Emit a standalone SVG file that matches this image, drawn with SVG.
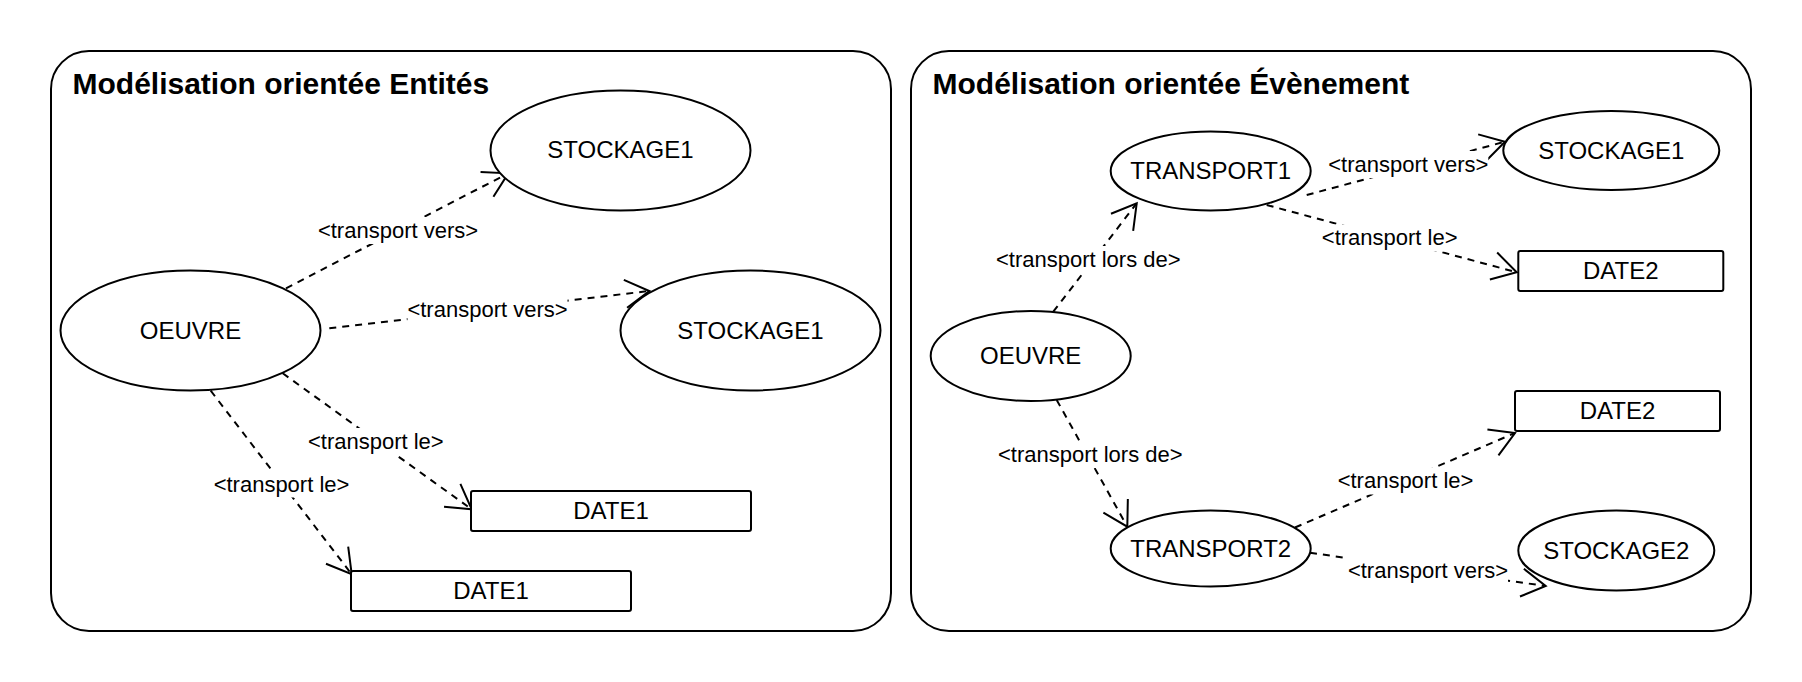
<svg xmlns="http://www.w3.org/2000/svg" width="1802" height="682" viewBox="0 0 1802 682">
<defs>
<style>
.panel{fill:#fff;stroke:#000;stroke-width:2}
.node{fill:#fff;stroke:#000;stroke-width:2}
.title{font-family:"Liberation Sans",Arial,sans-serif;font-size:30px;font-weight:bold;fill:#000}
.ntext{font-family:"Liberation Sans",Arial,sans-serif;font-size:24px;fill:#000;text-anchor:middle}
.edge{fill:none;stroke:#000;stroke-width:2;stroke-dasharray:7 6;marker-end:url(#open)}
.lbg{fill:#fff;stroke:none}
.ltext{font-family:"Liberation Sans",Arial,sans-serif;font-size:22px;fill:#000;text-anchor:middle}
</style>
<marker id="open" viewBox="-30 -16 32 32" markerWidth="32" markerHeight="32" refX="0" refY="0" orient="auto" markerUnits="userSpaceOnUse" overflow="visible">
<path d="M-24,-14 L0,0 L-24,14" fill="none" stroke="#000" stroke-width="2"/>
</marker>
</defs>
<rect width="1802" height="682" fill="#fff"/>
<g id="panel-entites">
<rect class="panel" x="51" y="51" width="840" height="580" rx="38" ry="38"/>
<text class="title" x="72.5" y="93.5">Modélisation orientée Entités</text>
</g>
<g id="panel-evenement">
<rect class="panel" x="911" y="51" width="840" height="580" rx="38" ry="38"/>
<text class="title" x="932.5" y="93.5">Modélisation orientée Évènement</text>
</g>
<g id="connectors">
<line class="edge" x1="286" y1="288.3" x2="508.3" y2="173.3"/>
<line class="edge" x1="329.3" y1="328.3" x2="649.3" y2="291"/>
<line class="edge" x1="282.7" y1="373.3" x2="471.7" y2="509.3"/>
<line class="edge" x1="210.7" y1="390.7" x2="351.7" y2="574.3"/>
<line class="edge" x1="1053.3" y1="311.7" x2="1136.7" y2="203.3"/>
<line class="edge" x1="1306.7" y1="195" x2="1505" y2="141.7"/>
<line class="edge" x1="1266.7" y1="205" x2="1516.7" y2="272.3"/>
<line class="edge" x1="1056.7" y1="400" x2="1127.3" y2="526.7"/>
<line class="edge" x1="1295" y1="527.5" x2="1515" y2="433"/>
<line class="edge" x1="1310" y1="552.8" x2="1545.7" y2="586"/>
<rect class="lbg" x="318" y="217" width="160" height="27"/>
<text class="ltext" x="398" y="237.5">&lt;transport vers&gt;</text>
<rect class="lbg" x="407.5" y="296" width="160" height="27"/>
<text class="ltext" x="487.5" y="316.7">&lt;transport vers&gt;</text>
<rect class="lbg" x="308" y="428" width="136" height="27"/>
<text class="ltext" x="375.8" y="449">&lt;transport le&gt;</text>
<rect class="lbg" x="213.5" y="470.5" width="136" height="27"/>
<text class="ltext" x="281.5" y="491.5">&lt;transport le&gt;</text>
<rect class="lbg" x="996" y="246" width="184" height="27"/>
<text class="ltext" x="1088.3" y="266.7">&lt;transport lors de&gt;</text>
<rect class="lbg" x="1328.3" y="151" width="160" height="27"/>
<text class="ltext" x="1408.3" y="171.7">&lt;transport vers&gt;</text>
<rect class="lbg" x="1321.7" y="224.5" width="136" height="27"/>
<text class="ltext" x="1389.7" y="245">&lt;transport le&gt;</text>
<rect class="lbg" x="998" y="441" width="184" height="27"/>
<text class="ltext" x="1090.3" y="461.7">&lt;transport lors de&gt;</text>
<rect class="lbg" x="1337.5" y="467.5" width="136" height="27"/>
<text class="ltext" x="1405.5" y="488">&lt;transport le&gt;</text>
<rect class="lbg" x="1348" y="557" width="160" height="27"/>
<text class="ltext" x="1428" y="577.5">&lt;transport vers&gt;</text>
</g>
<g id="e-oeuvre">
<ellipse class="node" cx="190.5" cy="330.5" rx="130" ry="60"/>
<text class="ntext" x="190.5" y="338.5">OEUVRE</text>
</g>
<g id="e-stockage1-top">
<ellipse class="node" cx="620.5" cy="150.5" rx="130" ry="60"/>
<text class="ntext" x="620.5" y="158">STOCKAGE1</text>
</g>
<g id="e-stockage1-right">
<ellipse class="node" cx="750.5" cy="330.5" rx="130" ry="60"/>
<text class="ntext" x="750.5" y="338.5">STOCKAGE1</text>
</g>
<g id="e-date1-upper">
<rect class="node" x="471" y="491" width="280" height="40" rx="2"/>
<text class="ntext" x="611" y="519">DATE1</text>
</g>
<g id="e-date1-lower">
<rect class="node" x="351" y="571" width="280" height="40" rx="2"/>
<text class="ntext" x="491" y="599">DATE1</text>
</g>
<g id="v-oeuvre">
<ellipse class="node" cx="1030.7" cy="356" rx="100" ry="45"/>
<text class="ntext" x="1030.7" y="364">OEUVRE</text>
</g>
<g id="v-transport1">
<ellipse class="node" cx="1210.7" cy="171" rx="100" ry="39.5"/>
<text class="ntext" x="1210.7" y="179">TRANSPORT1</text>
</g>
<g id="v-stockage1">
<ellipse class="node" cx="1611.3" cy="150.5" rx="108" ry="39.5"/>
<text class="ntext" x="1611.3" y="158.5">STOCKAGE1</text>
</g>
<g id="v-date2-upper">
<rect class="node" x="1518.3" y="251" width="205" height="40" rx="2"/>
<text class="ntext" x="1620.8" y="279">DATE2</text>
</g>
<g id="v-date2-lower">
<rect class="node" x="1515" y="391" width="205" height="40" rx="2"/>
<text class="ntext" x="1617.5" y="419">DATE2</text>
</g>
<g id="v-transport2">
<ellipse class="node" cx="1210.7" cy="548.5" rx="100" ry="38"/>
<text class="ntext" x="1210.7" y="556.5">TRANSPORT2</text>
</g>
<g id="v-stockage2">
<ellipse class="node" cx="1616.3" cy="550.5" rx="98" ry="40"/>
<text class="ntext" x="1616.3" y="558.5">STOCKAGE2</text>
</g>
</svg>
